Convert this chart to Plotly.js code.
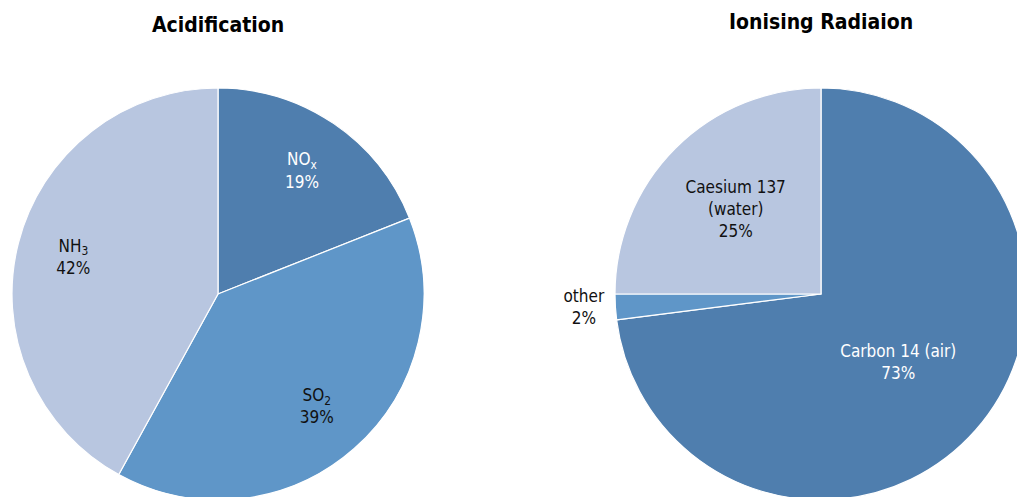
<!DOCTYPE html>
<html>
<head>
<meta charset="utf-8">
<script src="https://cdn.plot.ly/plotly-3.0.1.min.js"></script>
<style>
html, body { margin: 0; padding: 0; overflow: hidden; background: #fff; }
#chart { width: 1040px; height: 520px; }
</style>
</head>
<body>
<div id="chart"></div>
<script>
// Acidification
var acidLabels = ['NO<sub>x</sub>', 'SO<sub>2</sub>', 'NH<sub>3</sub>'];
var acidValues = [19, 39, 42];
// Ionising Radiation
var radLabels = ['Carbon 14 (air)', 'other', 'Caesium 137<br>(water)'];
var radValues = [73, 2, 25];

var titles = ['Acidification', 'Ionising Radiaion'];

var sliceColors = ['#4F7EAE', '#5F96C8', '#B8C6E0'];
var FONT = '"DejaVu Sans Condensed", "Liberation Sans Narrow", "Liberation Sans", sans-serif';

var W = 1040, H = 520;
function px(x) { return x / W; }
function py(y) { return 1 - y / H; }

var leftDomain = { x: [px(12), px(424)], y: [py(500), py(88)] };
var rightDomain = { x: [px(614), px(1028)], y: [py(500), py(88)] };
var textColors = ['#ffffff', '#111111', '#111111'];
var transparent = ['rgba(0,0,0,0)', 'rgba(0,0,0,0)', 'rgba(0,0,0,0)'];

function pie(labels, values, domain, opts) {
  var t = {
    type: 'pie', labels: labels, values: values, sort: false,
    direction: 'clockwise', rotation: 0,
    marker: { colors: sliceColors, line: { color: '#ffffff', width: 1.2 } },
    textinfo: 'none', hoverinfo: 'none', showlegend: false, domain: domain
  };
  for (var k in opts) t[k] = opts[k];
  return t;
}
var labelOpts = {
  texttemplate: '%{label}<br>%{percent:.0%}',
  insidetextorientation: 'horizontal',
  insidetextfont: { family: FONT, size: 17, color: textColors },
  outsidetextfont: { family: FONT, size: 17, color: '#111111' }
};
function withLabels(extra) {
  var o = {};
  for (var k in labelOpts) o[k] = labelOpts[k];
  for (var j in extra) o[j] = extra[j];
  return o;
}

var traces = [
  // Acidification pie (fill) + transparent ring carrying its labels
  pie(acidLabels, acidValues, leftDomain, {}),
  pie(acidLabels, acidValues, leftDomain, withLabels({
    hole: 0.45, textposition: 'inside',
    marker: { colors: transparent, line: { width: 0 } }
  })),
  // Ionising radiation pie with its labels
  pie(radLabels, radValues, rightDomain, withLabels({
    textposition: ['inside', 'outside', 'inside']
  }))
];

var layout = {
  width: W,
  height: H,
  margin: { l: 0, r: 0, t: 0, b: 0 },
  paper_bgcolor: '#ffffff',
  font: { family: FONT, color: '#111111' },
  annotations: [
    { text: '<b>' + titles[0] + '</b>', x: px(218), y: py(25), xref: 'paper', yref: 'paper',
      showarrow: false, xanchor: 'center', yanchor: 'middle', font: { family: FONT, size: 21, color: '#000' } },
    { text: '<b>' + titles[1] + '</b>', x: px(821), y: py(22), xref: 'paper', yref: 'paper',
      showarrow: false, xanchor: 'center', yanchor: 'middle', font: { family: FONT, size: 21, color: '#000' } }
  ]
};

Plotly.newPlot('chart', traces, layout, { staticPlot: true, displayModeBar: false });
</script>
</body>
</html>
